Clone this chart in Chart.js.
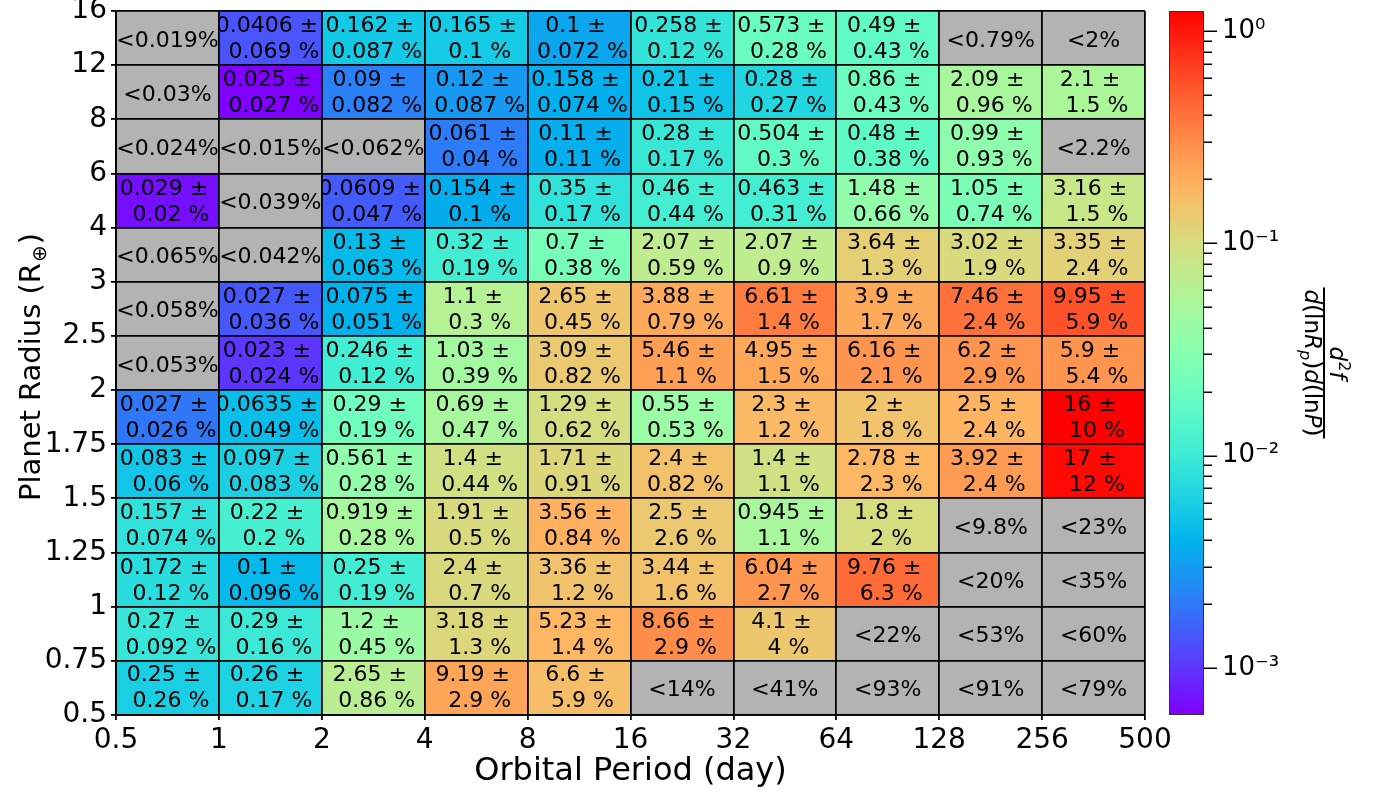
<!DOCTYPE html>
<html><head><meta charset="utf-8">
<script src="https://cdn.jsdelivr.net/npm/chart.js@4.4.1/dist/chart.umd.min.js"></script>
<style>
html,body{margin:0;padding:0;background:#fff;}
#wrap{position:relative;width:1375px;height:793px;}
canvas{position:absolute;left:0;top:0;}
</style></head><body>
<div id="wrap"><canvas id="main" width="1375" height="793"></canvas><canvas id="cbar" width="1375" height="793"></canvas></div>
<script>
// ---------------- data ----------------
const PERIOD_EDGES = [0.5, 1, 2, 4, 8, 16, 32, 64, 128, 256, 500];
const PERIOD_TICKS = ['0.5', '1', '2', '4', '8', '16', '32', '64', '128', '256', '500'];
const RADIUS_EDGES = [0.5, 0.75, 1, 1.25, 1.5, 1.75, 2, 2.5, 3, 4, 6, 8, 12, 16];
const RADIUS_TICKS = ['0.5', '0.75', '1', '1.25', '1.5', '1.75', '2', '2.5', '3', '4', '6', '8', '12', '16'];

// rows: bottom (0.5-0.75 Re) to top (12-16 Re); columns: 0.5-1 d ... 256-500 d
const OCC = [
  ['0.25', '0.26', '2.65', '9.19', '6.6', null, null, null, null, null],
  ['0.27', '0.29', '1.2', '3.18', '5.23', '8.66', '4.1', null, null, null],
  ['0.172', '0.1', '0.25', '2.4', '3.36', '3.44', '6.04', '9.76', null, null],
  ['0.157', '0.22', '0.919', '1.91', '3.56', '2.5', '0.945', '1.8', null, null],
  ['0.083', '0.097', '0.561', '1.4', '1.71', '2.4', '1.4', '2.78', '3.92', '17'],
  ['0.027', '0.0635', '0.29', '0.69', '1.29', '0.55', '2.3', '2', '2.5', '16'],
  [null, '0.023', '0.246', '1.03', '3.09', '5.46', '4.95', '6.16', '6.2', '5.9'],
  [null, '0.027', '0.075', '1.1', '2.65', '3.88', '6.61', '3.9', '7.46', '9.95'],
  [null, null, '0.13', '0.32', '0.7', '2.07', '2.07', '3.64', '3.02', '3.35'],
  ['0.029', null, '0.0609', '0.154', '0.35', '0.46', '0.463', '1.48', '1.05', '3.16'],
  [null, null, null, '0.061', '0.11', '0.28', '0.504', '0.48', '0.99', null],
  [null, '0.025', '0.09', '0.12', '0.158', '0.21', '0.28', '0.86', '2.09', '2.1'],
  [null, '0.0406', '0.162', '0.165', '0.1', '0.258', '0.573', '0.49', null, null]
];
const ERR = [
  ['0.26', '0.17', '0.86', '2.9', '5.9', null, null, null, null, null],
  ['0.092', '0.16', '0.45', '1.3', '1.4', '2.9', '4', null, null, null],
  ['0.12', '0.096', '0.19', '0.7', '1.2', '1.6', '2.7', '6.3', null, null],
  ['0.074', '0.2', '0.28', '0.5', '0.84', '2.6', '1.1', '2', null, null],
  ['0.06', '0.083', '0.28', '0.44', '0.91', '0.82', '1.1', '2.3', '2.4', '12'],
  ['0.026', '0.049', '0.19', '0.47', '0.62', '0.53', '1.2', '1.8', '2.4', '10'],
  [null, '0.024', '0.12', '0.39', '0.82', '1.1', '1.5', '2.1', '2.9', '5.4'],
  [null, '0.036', '0.051', '0.3', '0.45', '0.79', '1.4', '1.7', '2.4', '5.9'],
  [null, null, '0.063', '0.19', '0.38', '0.59', '0.9', '1.3', '1.9', '2.4'],
  ['0.02', null, '0.047', '0.1', '0.17', '0.44', '0.31', '0.66', '0.74', '1.5'],
  [null, null, null, '0.04', '0.11', '0.17', '0.3', '0.38', '0.93', null],
  [null, '0.027', '0.082', '0.087', '0.074', '0.15', '0.27', '0.43', '0.96', '1.5'],
  [null, '0.069', '0.087', '0.1', '0.072', '0.12', '0.28', '0.43', null, null]
];
const LIMIT = [
  [null, null, null, null, null, '14', '41', '93', '91', '79'],
  [null, null, null, null, null, null, null, '22', '53', '60'],
  [null, null, null, null, null, null, null, null, '20', '35'],
  [null, null, null, null, null, null, null, null, '9.8', '23'],
  [null, null, null, null, null, null, null, null, null, null],
  [null, null, null, null, null, null, null, null, null, null],
  ['0.053', null, null, null, null, null, null, null, null, null],
  ['0.058', null, null, null, null, null, null, null, null, null],
  ['0.065', '0.042', null, null, null, null, null, null, null, null],
  [null, '0.039', null, null, null, null, null, null, null, null],
  ['0.024', '0.015', '0.062', null, null, null, null, null, null, '2.2'],
  ['0.03', null, null, null, null, null, null, null, null, null],
  ['0.019', null, null, null, null, null, null, null, '0.79', '2']
];
// colour bar
const CB_LOG_MIN = -3.206, CB_LOG_MAX = 0.094;
const CB_MAJOR = [0.001, 0.01, 0.1, 1];
const CB_LABELS = ['10\u207b\u00b3', '10\u207b\u00b2', '10\u207b\u00b9', '10\u2070'];

// ---------------- helpers ----------------
const FAMILY = '"DejaVu Sans", sans-serif';
Chart.defaults.font.family = FAMILY;
Chart.defaults.color = '#000';
const LIMIT_GRAY = '#b3b3b3';
const CB_MIN = Math.pow(10, CB_LOG_MIN), CB_MAX = Math.pow(10, CB_LOG_MAX);
const TICK_SIZE = 28, XTITLE_SIZE = 32, YTITLE_SIZE = 29;

function clamp01(v) { return Math.max(0, Math.min(1, v)); }
function rainbow(t) {
  t = clamp01(t);
  const r = clamp01(Math.abs(2 * t - 0.5)), g = clamp01(Math.sin(Math.PI * t)), b = clamp01(Math.cos(Math.PI * t / 2));
  return 'rgb(' + Math.round(r * 255) + ',' + Math.round(g * 255) + ',' + Math.round(b * 255) + ')';
}
function cellColor(r, c) {
  if (OCC[r][c] === null) return LIMIT_GRAY;
  const f = parseFloat(OCC[r][c]) / 100;
  const dens = f / (Math.log(RADIUS_EDGES[r + 1] / RADIUS_EDGES[r]) * Math.log2(PERIOD_EDGES[c + 1] / PERIOD_EDGES[c]));
  return rainbow((Math.log10(dens) - CB_LOG_MIN) / (CB_LOG_MAX - CB_LOG_MIN));
}

const COL_LABELS = PERIOD_TICKS.slice(0, -1).map((s, i) => s + '-' + PERIOD_TICKS[i + 1]);
const datasets = OCC.map((row, r) => ({
  label: RADIUS_TICKS[r] + '-' + RADIUS_TICKS[r + 1],
  data: row.map(() => [r, r + 1]),
  backgroundColor: row.map((v, c) => cellColor(r, c)),
  borderWidth: 0,
  barPercentage: 1,
  categoryPercentage: 1,
  grouped: false
}));

const cellText = {
  id: 'cellText',
  afterDatasetsDraw(chart) {
    const ctx = chart.ctx;
    chart.data.datasets.forEach((ds, r) => {
      const meta = chart.getDatasetMeta(r);
      meta.data.forEach((bar, c) => {
        const p = bar.getProps(['x', 'y', 'base', 'width'], true);
        const top = Math.min(p.y, p.base), bottom = Math.max(p.y, p.base);
        const cy = (top + bottom) / 2;
        ctx.save();
        ctx.beginPath();
        ctx.rect(p.x - p.width / 2, top, p.width, bottom - top);
        ctx.clip();
        ctx.font = '22px ' + FAMILY;
        ctx.fillStyle = '#000';
        ctx.textAlign = 'center';
        ctx.textBaseline = 'alphabetic';
        if (OCC[r][c] !== null) {
          ctx.fillText(OCC[r][c] + ' \u00b1 ', p.x, cy - 6);
          ctx.fillText(' ' + ERR[r][c] + ' %', p.x, cy + 20);
        } else {
          ctx.fillText('<' + LIMIT[r][c] + '%', p.x, cy + 8.5);
        }
        ctx.restore();
      });
    });
  },
  afterDraw(chart) {
    const ctx = chart.ctx;
    const a = chart.chartArea;
    ctx.save();
    ctx.translate(30, (a.top + a.bottom) / 2 + 4);
    ctx.rotate(-Math.PI / 2);
    const main = YTITLE_SIZE + 'px ' + FAMILY, sub = Math.round(YTITLE_SIZE * 0.7) + 'px ' + FAMILY;
    ctx.font = main;
    const t1 = 'Planet Radius (R', t3 = ')';
    const w1 = ctx.measureText(t1).width, w3 = ctx.measureText(t3).width;
    ctx.font = sub;
    const w2 = ctx.measureText('\u2295').width;
    let x = -(w1 + w2 + w3 + 2) / 2;
    ctx.fillStyle = '#000';
    ctx.textAlign = 'left';
    ctx.textBaseline = 'alphabetic';
    const base = 10;
    ctx.font = main; ctx.fillText(t1, x, base); x += w1;
    ctx.font = sub; ctx.fillText('\u2295', x + 1, base + 6); x += w2 + 2;
    ctx.font = main; ctx.fillText(t3, x, base);
    ctx.restore();
  }
};

new Chart(document.getElementById('main'), {
  type: 'bar',
  data: { labels: COL_LABELS, datasets: datasets },
  options: {
    responsive: false,
    devicePixelRatio: 1,
    animation: false,
    events: [],
    layout: { padding: { left: 0, right: 230, top: 11, bottom: 0 } },
    plugins: { legend: { display: false }, tooltip: { enabled: false } },
    scales: {
      x: { type: 'category', display: false, offset: true },
      xe: {
        type: 'linear', position: 'bottom', min: 0, max: PERIOD_TICKS.length - 1, offset: false,
        afterBuildTicks: s => { s.ticks = PERIOD_TICKS.map((_, i) => ({ value: i })); },
        ticks: { callback: v => PERIOD_TICKS[v], font: { size: TICK_SIZE }, color: '#000', padding: 4, maxRotation: 0, autoSkip: false },
        grid: { color: '#000', lineWidth: 1.8, tickLength: 5, drawOnChartArea: true, offset: false, z: 1 },
        border: { display: true, color: '#000', width: 1.8, z: 1 },
        title: { display: true, text: 'Orbital Period (day)', font: { size: XTITLE_SIZE }, color: '#000', padding: { top: 0, bottom: 2 } },
        afterFit: s => { s.height = 78; s.paddingLeft = 0; s.paddingRight = 0; }
      },
      y: {
        type: 'linear', position: 'left', min: 0, max: RADIUS_TICKS.length - 1, offset: false,
        afterBuildTicks: s => { s.ticks = RADIUS_TICKS.map((_, i) => ({ value: i })); },
        ticks: { callback: v => RADIUS_TICKS[v], font: { size: TICK_SIZE }, color: '#000', padding: 4, autoSkip: false },
        grid: { color: '#000', lineWidth: 1.8, tickLength: 5, drawOnChartArea: true, z: 1 },
        border: { display: true, color: '#000', width: 1.8, z: 1 },
        afterFit: s => { s.width = 116; s.paddingTop = 0; s.paddingBottom = 0; }
      }
    }
  },
  plugins: [cellText]
});

// ---------------- colour bar ----------------
const CB_TICK_VALUES = [];
CB_MAJOR.forEach(m => { for (let k = 1; k <= 9; k++) { const v = +(m * k).toPrecision(3); if (v >= CB_MIN && v <= CB_MAX) CB_TICK_VALUES.push(v); } });

function cbGradient(chart) {
  const a = chart.chartArea;
  if (!a) return '#888';
  const g = chart.ctx.createLinearGradient(0, a.bottom, 0, a.top);
  for (let i = 0; i <= 64; i++) { const t = i / 64; g.addColorStop(t, rainbow(t)); }
  return g;
}

const cbDecor = {
  id: 'cbDecor',
  afterDatasetsDraw(chart) {
    const ctx = chart.ctx, a = chart.chartArea, sc = chart.scales.y;
    ctx.save();
    ctx.strokeStyle = '#333';
    ctx.lineWidth = 1;
    ctx.strokeRect(a.left + 0.5, a.top + 0.5, a.right - a.left - 1, a.bottom - a.top - 1);
    ctx.strokeStyle = '#000';
    ctx.lineWidth = 1.5;
    sc.ticks.forEach(t => {
      const y = Math.round(sc.getPixelForValue(t.value)) + 0.25;
      const len = CB_MAJOR.some(m => Math.abs(m - t.value) < m * 1e-6) ? 13 : 8;
      ctx.beginPath(); ctx.moveTo(a.right, y); ctx.lineTo(a.right + len, y); ctx.stroke();
    });
    ctx.restore();

    // colour bar label: d^2 f / d(ln R_p) d(ln P), rotated
    ctx.save();
    ctx.translate(1324, (a.top + a.bottom) / 2);
    ctx.rotate(Math.PI / 2);
    ctx.fillStyle = '#000';
    ctx.textBaseline = 'alphabetic';
    ctx.textAlign = 'left';
    const it = 'italic 23px ' + FAMILY, up = '23px ' + FAMILY, itSmall = 'italic 16px ' + FAMILY, upSmall = '16px ' + FAMILY;
    const den = [['d', it, 0], ['(', up, 0], ['ln', up, 0], ['R', it, 0], ['p', itSmall, 5], [')', up, 0], ['d', it, 0], ['(', up, 0], ['ln', up, 0], ['P', it, 0], [')', up, 0]];
    const num = [['d', it, 0], ['2', upSmall, -9], ['f', it, 0]];
    function width(parts) { let w = 0; parts.forEach(p => { ctx.font = p[1]; w += ctx.measureText(p[0]).width; }); return w; }
    function draw(parts, baseY) {
      let x = -width(parts) / 2;
      parts.forEach(p => { ctx.font = p[1]; ctx.fillText(p[0], x, baseY + p[2]); x += ctx.measureText(p[0]).width; });
    }
    const wd = width(den), wn = width(num);
    const barW = Math.max(wd, wn) + 4;
    ctx.fillRect(-barW / 2, -1, barW, 2);
    draw(num, -6);
    draw(den, 19);
    ctx.restore();
  }
};

new Chart(document.getElementById('cbar'), {
  type: 'bar',
  data: { labels: ['colour'], datasets: [{ data: [[CB_MIN / 2, CB_MAX * 2]], backgroundColor: ctx => cbGradient(ctx.chart), borderWidth: 0, barPercentage: 1, categoryPercentage: 1 }] },
  options: {
    responsive: false,
    devicePixelRatio: 1,
    animation: false,
    events: [],
    layout: { padding: { left: 1169, right: 0, top: 11, bottom: 78 } },
    plugins: { legend: { display: false }, tooltip: { enabled: false } },
    scales: {
      x: { display: false },
      y: {
        type: 'logarithmic', position: 'right', min: CB_MIN, max: CB_MAX,
        afterBuildTicks: s => { s.ticks = CB_TICK_VALUES.map(v => ({ value: v })); },
        ticks: {
          autoSkip: false, padding: 5, font: { size: 26 }, color: '#000',
          callback: v => { const i = CB_MAJOR.findIndex(m => Math.abs(m - v) < m * 1e-6); return i >= 0 ? CB_LABELS[i] : ''; }
        },
        grid: { drawOnChartArea: false, tickLength: 13, color: 'rgba(0,0,0,0)' },
        border: { display: false },
        afterFit: s => { s.width = 171; s.paddingTop = 0; s.paddingBottom = 0; }
      }
    }
  },
  plugins: [cbDecor]
});
</script>
</body></html>
